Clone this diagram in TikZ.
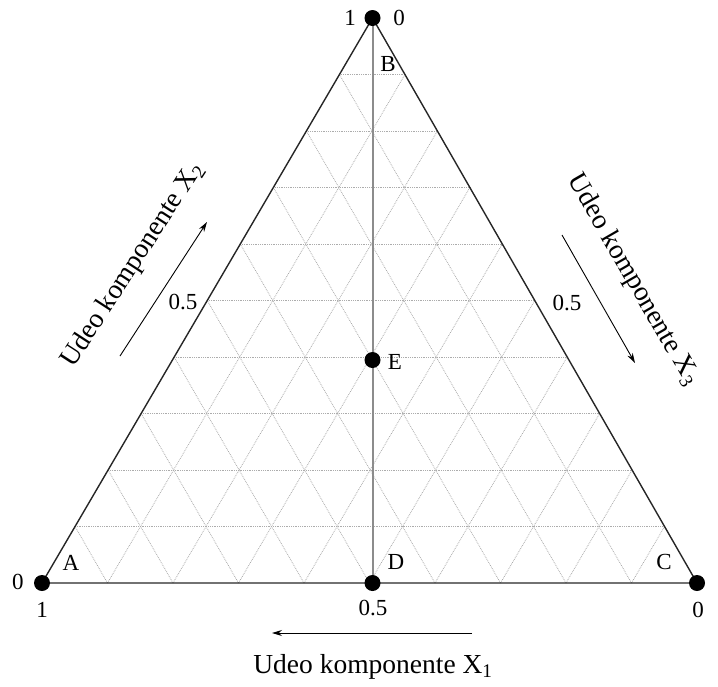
\documentclass[tikz,border=0pt]{standalone}
\usepackage{fontspec}
\setmainfont{Liberation Serif}
\usetikzlibrary{calc,arrows.meta}
\begin{document}
\begin{tikzpicture}[x=1pt,y=-1pt,
  gridline/.style={gray!65,densely dotted,line width=0.8pt},
  edge/.style={black!85,line width=1.4pt},
  midline/.style={gray!90,line width=2pt},
  vdot/.style={circle,fill=black,inner sep=0pt,minimum size=16pt},
  num/.style={inner sep=0pt,font=\fontsize{23}{23}\selectfont},
  lett/.style={inner sep=0pt,font=\fontsize{23}{23}\selectfont},
  axlabel/.style={inner sep=0pt,font=\fontsize{27.5}{27.5}\selectfont},
  axarrow/.style={black,line width=0.9pt,-{Stealth[length=10pt,width=6pt]}}]
\useasboundingbox (0,0) rectangle (718,686);
\coordinate (L) at (42,583);
\coordinate (R) at (697,583);
\coordinate (T) at (372.5,18);
\coordinate (Dp) at (372.5,583);
\coordinate (Ep) at (372.5,360);
% grid
\foreach \k in {1,...,9}{
  \draw[gridline] ($(L)!\k/10!(T)$) -- ($(R)!\k/10!(T)$);
  \draw[gridline] ($(L)!\k/10!(R)$) -- ($(T)!\k/10!(R)$);
  \draw[gridline] ($(R)!\k/10!(L)$) -- ($(T)!\k/10!(L)$);
}
\draw[midline] (T) -- (Dp);
\draw[edge] (L) -- (R) -- (T) -- cycle;
\node[vdot] (vT) at (T) {};
\node[vdot] (vL) at (L) {};
\node[vdot] (vR) at (R) {};
\node[vdot] (vD) at (Dp) {};
\node[vdot] (vE) at (Ep) {};
% letters
\node[lett] (lA) at (71,563) {A};
\node[lett] (lB) at (388,64) {B};
\node[lett] (lC) at (664,562) {C};
\node[lett] (lD) at (396,562) {D};
\node[lett] (lE) at (395,362) {E};
% numbers
\node[num] (t1) at (350,18) {1};
\node[num] (t0) at (399,18) {0};
\node[num] (l0) at (18,582) {0};
\node[num] (l1) at (42,610) {1};
\node[num] (r1) at (724,582) {1};
\node[num] (r0) at (698,610) {0};
\node[num] (m5) at (373,608) {0.5};
\node[num] (lh) at (183,302) {0.5};
\node[num] (rh) at (567,303) {0.5};
% axis arrows
\coordinate (a1s) at (472,633);
\coordinate (a1e) at (272,633);
\draw[axarrow] (a1s) -- (a1e);
\coordinate (a2s) at (120,356);
\coordinate (a2e) at (207,222);
\draw[axarrow] (a2s) -- (a2e);
\coordinate (a3s) at (562,235);
\coordinate (a3e) at (635,363);
\draw[axarrow] (a3s) -- (a3e);
% axis labels
\node[axlabel] (x1) at (373,667) {Udeo komponente X\textsubscript{1}};
\node[axlabel,rotate=57] (x2) at (133,265) {Udeo komponente X\textsubscript{2}};
\node[axlabel,rotate=-60] (x3) at (633,280) {Udeo komponente X\textsubscript{3}};
\end{tikzpicture}
\end{document}
